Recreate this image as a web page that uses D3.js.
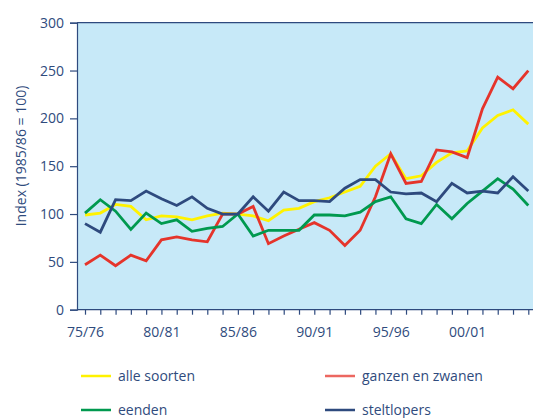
<!DOCTYPE html>
<html>
<head>
<meta charset="utf-8">
<script src="https://cdn.jsdelivr.net/npm/d3@7"></script>
<style>
  body { margin: 0; background: #fff; }
  svg text { font-family: "Open Sans", "Noto Sans", sans-serif; fill: #2f4b7d; }
</style>
</head>
<body>
<div id="chart"></div>
<script>
// seasons 1975/76 .. 2004/05
var seasons = d3.range(1975, 2005).map(function (y) {
  return String(y % 100).padStart(2, "0") + "/" + String((y + 1) % 100).padStart(2, "0");
});
var tickLabels = ["75/76", "80/81", "85/86", "90/91", "95/96", "00/01"];
var yTicks = [0, 50, 100, 150, 200, 250, 300];

var alleSoorten = [99, 101, 110, 108, 94, 98, 97, 94, 98, 101, 100, 98, 93, 104, 106, 113, 117, 123, 129, 150, 163, 137, 140, 154, 164, 166, 190, 203, 209, 194];
var ganzenZwanen = [47, 57, 46, 57, 51, 73, 76, 73, 71, 100, 100, 108, 69, 77, 84, 91, 83, 67, 83, 118, 163, 132, 134, 167, 165, 159, 210, 243, 231, 250];
var eenden = [101, 115, 103, 84, 101, 90, 94, 82, 85, 87, 100, 77, 83, 83, 83, 99, 99, 98, 102, 113, 118, 95, 90, 110, 95, 111, 124, 137, 126, 109];
var steltlopers = [90, 81, 115, 114, 124, 116, 109, 118, 106, 100, 100, 118, 103, 123, 114, 114, 113, 127, 136, 136, 123, 121, 122, 113, 132, 122, 124, 122, 139, 124];

var series = [
  { name: "alle soorten", values: alleSoorten, color: "#fff200" },
  { name: "ganzen en zwanen", values: ganzenZwanen, color: "#e5342b" },
  { name: "eenden", values: eenden, color: "#00994f" },
  { name: "steltlopers", values: steltlopers, color: "#2e4a7e" }
];

var w = 533, h = 418;
var plotLeft = 77, plotTop = 22.7, plotBottom = 309.7;
var axisColor = "#2e4a7e";

var svg = d3.select("#chart").append("svg").attr("width", w).attr("height", h);

var x = d3.scaleLinear().domain([0, seasons.length - 1]).range([85, 528.3]);
var y = d3.scaleLinear().domain([0, 300]).range([plotBottom, plotTop]);

// plot background
svg.append("rect")
  .attr("x", plotLeft).attr("y", plotTop)
  .attr("width", w - plotLeft).attr("height", plotBottom - plotTop)
  .attr("fill", "#c7e9f8");

// top frame line
svg.append("line").attr("x1", plotLeft).attr("x2", w).attr("y1", plotTop).attr("y2", plotTop)
  .attr("stroke", axisColor).attr("stroke-width", 1.2);

// y axis
var yAxis = d3.axisLeft(y).tickValues(yTicks).tickSize(7).tickPadding(6);
var gy = svg.append("g").attr("transform", "translate(" + plotLeft + ",0)").call(yAxis);
gy.select(".domain").attr("stroke", axisColor).attr("stroke-width", 1.2);
gy.selectAll(".tick line").attr("stroke", axisColor).attr("stroke-width", 1.2);
gy.selectAll(".tick text").style("font-size", "14px").attr("fill", axisColor);

// x axis
var xAxis = d3.axisBottom(x).tickValues(d3.range(seasons.length)).tickSize(5)
  .tickFormat(function (i) { return tickLabels.indexOf(seasons[i]) >= 0 ? seasons[i] : ""; })
  .tickPadding(12);
var gx = svg.append("g").attr("transform", "translate(0," + plotBottom + ")").call(xAxis);
gx.select(".domain").attr("d", "M" + plotLeft + ",0H" + w).attr("stroke", axisColor).attr("stroke-width", 1.2);
gx.selectAll(".tick line").attr("stroke", axisColor).attr("stroke-width", 1.2);
gx.selectAll(".tick text").style("font-size", "14px").attr("fill", axisColor);

// y title
svg.append("text")
  .attr("transform", "translate(26,156) rotate(-90)")
  .attr("text-anchor", "middle")
  .style("font-size", "14px")
  .text("Index (1985/86 = 100)");

// lines
var line = d3.line().x(function (d, i) { return x(i); }).y(function (d) { return y(d); });
svg.selectAll(".series").data(series).enter().append("path")
  .attr("class", "series")
  .attr("d", function (s) { return line(s.values); })
  .attr("fill", "none")
  .attr("stroke", function (s) { return s.color; })
  .attr("stroke-width", 2.8)
  .attr("stroke-linejoin", "miter");

// legend
var legendPos = [[81, 376], [325, 376], [81, 410], [325, 410]];
var lg = svg.selectAll(".legend").data(series).enter().append("g")
  .attr("class", "legend")
  .attr("transform", function (s, i) { return "translate(" + legendPos[i][0] + "," + legendPos[i][1] + ")"; });
lg.append("line").attr("x1", 0).attr("x2", 30).attr("y1", 0).attr("y2", 0)
  .attr("stroke", function (s) { return s.color; })
  .attr("stroke-opacity", function (s) { return s.name === "ganzen en zwanen" ? 0.75 : 1; })
  .attr("stroke-width", 2.5);
lg.append("text").attr("x", 37).attr("y", 4.5)
  .style("font-size", "14px")
  .text(function (s) { return s.name; });
</script>
</body>
</html>
